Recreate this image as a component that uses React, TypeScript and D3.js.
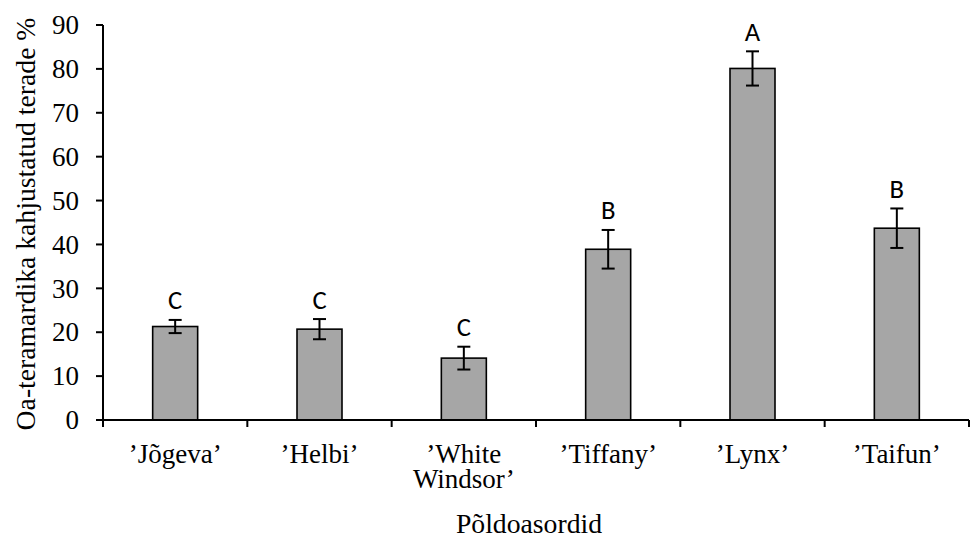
import React from "react";
import * as d3 from "d3";

const categories = ["’Jõgeva’", "’Helbi’", "’White Windsor’", "’Tiffany’", "’Lynx’", "’Taifun’"];
const categoryLines = [["’Jõgeva’"], ["’Helbi’"], ["’White", "Windsor’"], ["’Tiffany’"], ["’Lynx’"], ["’Taifun’"]];
const means = [21.3, 20.7, 14.1, 38.9, 80.1, 43.7];
const errors = [1.5, 2.3, 2.6, 4.4, 3.9, 4.5];
const letters = ["C", "C", "C", "B", "A", "B"];
const yTicks = [0, 10, 20, 30, 40, 50, 60, 70, 80, 90];
const yTitle = "Oa-teramardika kahjustatud terade %";
const xTitle = "Põldoasordid";

const W = 970;
const H = 538;
const left = 103;
const right = 969;
const top = 25;
const bottom = 420;

export default function App() {
  const x = d3.scaleBand<string>().domain(categories).range([left, right]).paddingInner(0).paddingOuter(0);
  const y = d3.scaleLinear().domain([0, 90]).range([bottom, top]);
  const bw = 45;
  const serif = "Liberation Serif";
  const sans = "Carlito";
  const fs = 27;
  const fsTitle = 27.7;
  const boundaries = categories.map((c) => x(c) as number).concat([right]);

  return (
    <svg width={W} height={H} style={{ position: "absolute", left: 0, top: 0 }}>
      <rect x={0} y={0} width={W} height={H} fill="white" />
      {categories.map((c, i) => {
        const cx = (x(c) as number) + x.bandwidth() / 2;
        return (
          <g key={c}>
            <rect x={cx - bw / 2} y={y(means[i])} width={bw} height={y(0) - y(means[i])} fill="#A6A6A6" stroke="#000" strokeWidth={1.6} />
            <line x1={cx} x2={cx} y1={y(means[i] + errors[i])} y2={y(means[i] - errors[i])} stroke="#000" strokeWidth={2} />
            <line x1={cx - 6.5} x2={cx + 6.5} y1={y(means[i] + errors[i])} y2={y(means[i] + errors[i])} stroke="#000" strokeWidth={2} />
            <line x1={cx - 6.5} x2={cx + 6.5} y1={y(means[i] - errors[i])} y2={y(means[i] - errors[i])} stroke="#000" strokeWidth={2} />
            <text x={cx} y={y(means[i] + errors[i]) - 10.5} textAnchor="middle" fontFamily={sans} fontSize={26.67} fill="#000">
              {letters[i]}
            </text>
          </g>
        );
      })}
      <line x1={left} x2={left} y1={top} y2={bottom + 7} stroke="#000" strokeWidth={2} />
      {yTicks.map((t) => (
        <g key={t}>
          <line x1={left - 7} x2={left} y1={y(t)} y2={y(t)} stroke="#000" strokeWidth={2} />
          <text x={79} y={y(t)} dy="0.34em" textAnchor="end" fontFamily={serif} fontSize={fs} fill="#000">
            {t}
          </text>
        </g>
      ))}
      <line x1={left - 7} x2={right} y1={bottom} y2={bottom} stroke="#000" strokeWidth={2} />
      {boundaries.map((b, i) => (
        <line key={i} x1={b} x2={b} y1={bottom} y2={bottom + 7} stroke="#000" strokeWidth={2} />
      ))}
      {categories.map((c, i) => {
        const cx = (x(c) as number) + x.bandwidth() / 2;
        return (
          <text key={c} x={cx} y={463} textAnchor="middle" fontFamily={serif} fontSize={fs} fill="#000">
            {categoryLines[i].map((l, j) => (
              <tspan key={j} x={cx} dy={j === 0 ? 0 : 25}>
                {l}
              </tspan>
            ))}
          </text>
        );
      })}
      <text x={529} y={533} textAnchor="middle" fontFamily={serif} fontSize={fsTitle} fill="#000">
        {xTitle}
      </text>
      <text transform={`translate(35,224) rotate(-90)`} textAnchor="middle" fontFamily={serif} fontSize={fsTitle} fill="#000">
        {yTitle}
      </text>
    </svg>
  );
}
